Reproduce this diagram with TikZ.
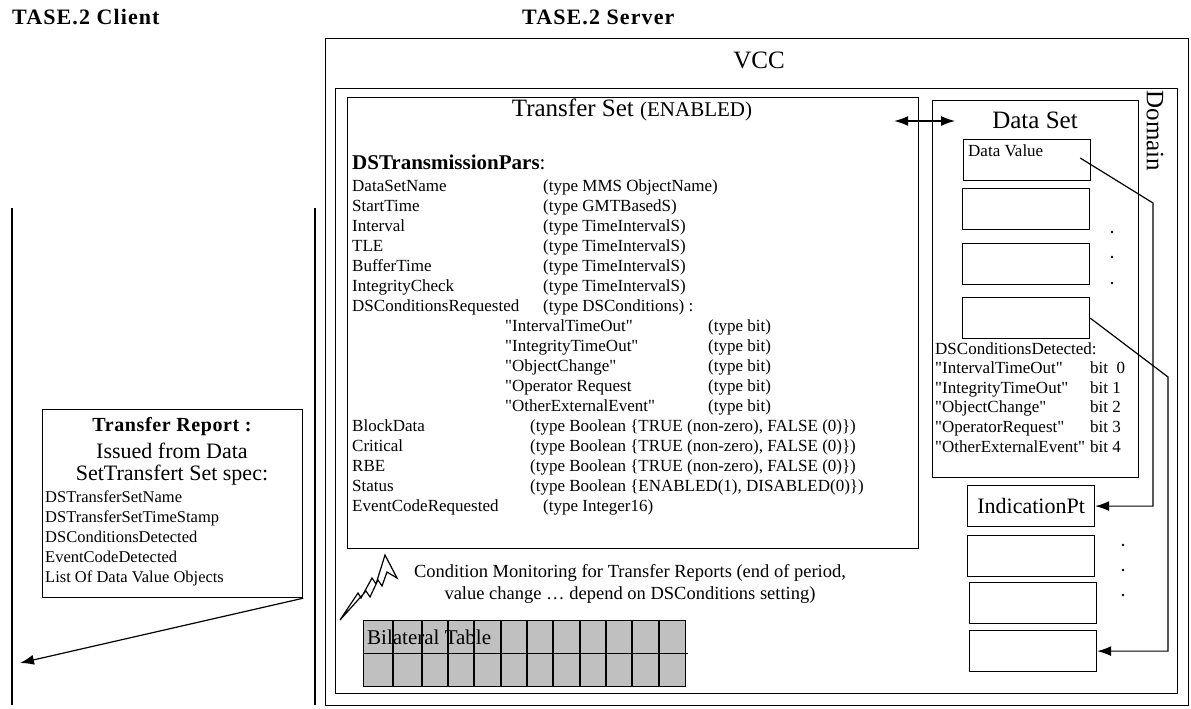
\documentclass[tikz,border=0pt]{standalone}
\usepackage{fontspec}
\setmainfont{Liberation Serif}
\usetikzlibrary{arrows.meta,positioning}
\definecolor{tablegray}{RGB}{192,192,192}
\newcommand{\setfs}[1]{\fontsize{#1}{#1}\selectfont}
\newcommand{\dq}{\textquotedbl}
\tikzset{
  frame/.style = {draw, rectangle, line width=1.2pt, anchor=north west, inner sep=0pt},
  slot/.style  = {frame, minimum width=127pt, minimum height=41pt},
  par/.style   = {anchor=west, inner sep=0pt, font=\setfs{17}, text height=11pt, text depth=3pt},
  small/.style = {par, font=\setfs{16.5}},
  head/.style  = {inner sep=0pt, font=\bfseries\setfs{22}\addfontfeature{LetterSpace=5}},
  wire/.style  = {line width=1.2pt}
}

\begin{document}
\begin{tikzpicture}[x=1pt, y=-1pt, >={Latex[length=14pt,width=10pt]}]
\useasboundingbox (0,0) rectangle (1191,709);

% headings
\node[head, anchor=west] (client) at (12,17) {TASE.2 Client};
\node[head, anchor=west] (server) at (522,17) {TASE.2 Server};

% client side and server side lines
\draw[wire] (12,208) -- (12,705);
\draw[wire] (315,208) -- (315,705);

% server frames
\node[frame, minimum width=863pt, minimum height=667pt] (vcc) at (325,38) {};
\node[font=\setfs{25}] (vcclabel) at (759,60) {VCC};
\node[frame, minimum width=842pt, minimum height=605pt] (domain) at (335,88) {};
\node[font=\setfs{25}, rotate=-90] (domainlabel) at (1155,131) {Domain};

% transfer set
\node[frame, minimum width=571pt, minimum height=451pt] (ts) at (347,97) {};
\node (tstitle) at (632,110) {\setfs{25}Transfer Set {\setfs{21}(ENABLED)}};
\node[anchor=west, inner sep=0pt, font=\bfseries\setfs{21}] (pars) at (352,162) {DSTransmissionPars\normalfont:};

\foreach \txt [count=\k] in {DataSetName, StartTime, Interval, TLE, BufferTime,
    IntegrityCheck, DSConditionsRequested}
  \node[par] (pn\k) at (352,167+20*\k) {\txt};
\foreach \txt [count=\k] in {(type MMS ObjectName), (type GMTBasedS),
    (type TimeIntervalS), (type TimeIntervalS), (type TimeIntervalS),
    (type TimeIntervalS), (type DSConditions) :}
  \node[par] (pt\k) at (543,167+20*\k) {\txt};
\foreach \txt [count=\k from 8] in {\dq IntervalTimeOut\dq, \dq IntegrityTimeOut\dq,
    \dq ObjectChange\dq, \dq Operator Request, \dq OtherExternalEvent\dq}
  \node[par] (pn\k) at (505,167+20*\k) {\txt};
\foreach \k in {8,...,12}
  \node[par] (pt\k) at (708,167+20*\k) {(type bit)};
\foreach \txt [count=\k from 13] in {BlockData, Critical, RBE, Status, EventCodeRequested}
  \node[par] (pn\k) at (352,167+20*\k) {\txt};
\foreach \k in {13,14,15}
  \node[par] (pt\k) at (530,167+20*\k) {(type Boolean \{TRUE (non-zero), FALSE (0)\})};
\node[par] (pt16) at (530,487) {(type Boolean \{ENABLED(1), DISABLED(0)\})};
\node[par] (pt17) at (543,507) {(type Integer16)};

% data set
\node[frame, minimum width=206pt, minimum height=377pt] (dset) at (932,100) {};
\node[font=\setfs{25}] (dstitle) at (1035,120) {Data Set};
\node[slot] (dv) at (963,139) {};
\node[inner sep=0pt, anchor=north west, font=\setfs{17},
      below right=6pt and 5pt of dv.north west] (dvtext) {Data Value};
\foreach \y [count=\i from 2] in {188,243,297}
  \node[slot] (ds\i) at (962,\y) {};
\foreach \y in {232,257,283}
  \fill (1112,\y) circle (1.3);

\node[par] (dscd) at (935,350) {DSConditionsDetected:};
\foreach \txt [count=\i] in {\dq IntervalTimeOut\dq, \dq IntegrityTimeOut\dq,
    \dq ObjectChange\dq, \dq OperatorRequest\dq, \dq OtherExternalEvent\dq}
  \node[par] (dc\i) at (935,350+19.6*\i) {\txt};
\node[par] (bit1) at (1090,369.6) {bit\ \ 0};
\foreach \b [count=\i from 2] in {1,2,3,4}
  \node[par] (bit\i) at (1090,350+19.6*\i) {bit \b};

% indication points
\node[slot, font=\setfs{22}] (ind) at (967,485) {IndicationPt};
\node[slot] (ip2) at (967,535) {};
\node[slot] (ip3) at (969,582) {};
\node[slot] (ip4) at (969,630) {};
\foreach \y in {545,570,595}
  \fill (1123,\y) circle (1.3);

% links
\coordinate (k1) at (1153,203);
\coordinate (k2) at (1168,377);
\draw[wire, <->] ([shift={(-25,24)}]ts.north east) -- ([shift={(23,21)}]dset.north west);
\draw[wire, ->] ([shift={(-11,19)}]dv.north east) -- (k1) |- (ind.east);
\draw[wire, ->] (ds4.east) -- (k2) |- (ip4.east);

% transfer report
\node[frame, minimum width=260pt, minimum height=188pt] (rep) at (42,409) {};
\node[font=\bfseries\setfs{20}\addfontfeature{LetterSpace=3}] (reptitle) at (172,427) {Transfer Report :};
\node[font=\setfs{22}] (rep1) at (172,451) {Issued from Data};
\node[font=\setfs{22}] (rep2) at (172,475) {SetTransfert Set spec:};
\foreach \txt [count=\i] in {DSTransferSetName, DSTransferSetTimeStamp,
    DSConditionsDetected, EventCodeDetected, List Of Data Value Objects}
  \node[small] (rl\i) at (45,478+20*\i) {\txt};
\coordinate (cl) at (20,663);
\draw[wire, ->] (rep.south east) -- (cl);

% condition monitoring
\draw[wire, line join=miter] (340,620) -- (358,593) -- (361,598) -- (372,578) -- (376,584)
  -- (385,555) -- (397,578) -- (387,572) -- (382,586) -- (378,580) -- (370,597)
  -- (366,591) -- cycle;
\node[align=center, font={\fontsize{18.5}{22.5}\selectfont}] (cond) at (630,584)
  {Condition Monitoring for Transfer Reports (end of period,\\
   value change … depend on DSConditions setting)};

% bilateral table
\node[frame, fill=tablegray, minimum width=322pt, minimum height=66pt] (bt) at (363,620) {};
\node[anchor=west, inner sep=0pt, font=\setfs{21}] (bttext) at (367,637) {Bilateral Table};
\foreach \x in {393,422,448,474,501,527,553,580,606,632,659}
  \draw[wire] (\x,620) -- (\x,686);
\draw[wire] (bt.west) -- ++(325,0);
\end{tikzpicture}
\end{document}
